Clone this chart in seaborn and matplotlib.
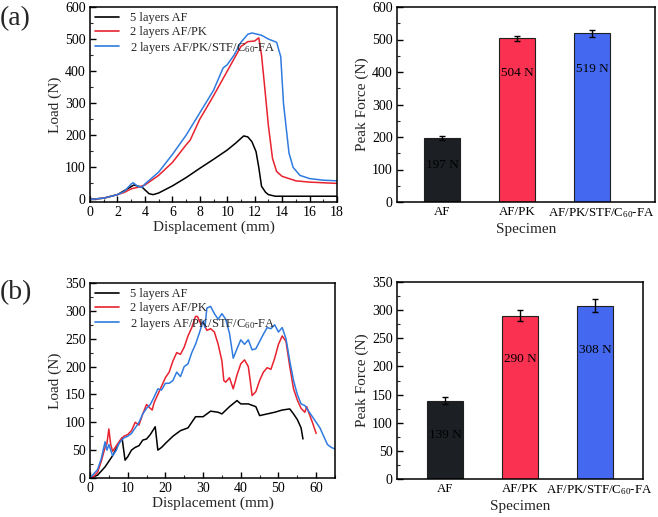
import numpy as np
import pandas as pd
import matplotlib
matplotlib.use("Agg")
import matplotlib.pyplot as plt
from matplotlib.ticker import MultipleLocator, AutoMinorLocator
from matplotlib.transforms import ScaledTranslation
import seaborn as sns

sns.set_theme(style="ticks")
plt.rcParams['font.family'] = ['Liberation Serif', 'DejaVu Serif']
plt.rcParams['mathtext.fontset'] = 'custom'
plt.rcParams['mathtext.rm'] = 'Liberation Serif'
plt.rcParams['mathtext.it'] = 'Liberation Serif:italic'
plt.rcParams['mathtext.default'] = 'regular'

# ---------------- data: panel (a) load-displacement ----------------
a_af_x = [0, 1, 2, 2.6, 3.2, 3.8, 4.3, 4.6, 5, 6, 7, 8, 9, 10, 10.6, 11.2, 11.5, 11.8, 12.1, 12.3, 12.5, 12.8, 13.0, 13.5, 14, 16, 18]
a_af_y = [0, 4, 15, 30, 45, 38, 18, 15, 20, 42, 68, 97, 125, 154, 175, 198, 195, 180, 149, 100, 41, 22, 15, 10, 10, 10, 10]

a_pk_x = [0, 1, 2, 2.5, 3, 3.5, 4, 5, 6, 7, 7.3, 8, 9, 10, 11, 11.5, 12, 12.3, 12.5, 12.7, 13, 13.3, 13.6, 14, 15, 16, 18]
a_pk_y = [0, 4, 15, 22, 33, 38, 45, 75, 115, 170, 185, 250, 323, 400, 477, 492, 494, 504, 450, 364, 230, 128, 87, 72, 58, 54, 50]

a_stf_x = [0, 1, 2, 2.5, 3, 3.15, 3.5, 3.8, 4, 5, 6, 7, 8, 9, 9.7, 10, 10.5, 11, 11.5, 11.8, 12.5, 13, 13.6, 13.9, 14.1, 14.5, 14.8, 15.3, 16, 17, 18]
a_stf_y = [0, 4, 15, 25, 48, 52, 40, 38, 48, 85, 140, 200, 270, 340, 410, 420, 450, 490, 515, 519, 512, 500, 490, 445, 300, 145, 100, 75, 65, 60, 58]

# ---------------- data: panel (b) load-displacement ----------------
b_af_x = [0, 2, 4, 6, 7.5, 8.5, 9.3, 10, 11, 12, 13, 14, 15, 16, 17.3, 18, 19, 20, 22, 24, 26, 28, 30, 32, 34, 35, 37, 39, 40, 42, 44, 45, 47, 49, 51, 53, 54, 55, 56, 56.5]
b_af_y = [0, 5, 20, 40, 60, 72, 32, 38, 50, 55, 58, 68, 70, 78, 92, 50, 55, 62, 75, 85, 90, 110, 110, 120, 118, 115, 128, 139, 133, 133, 128, 112, 115, 118, 122, 124, 115, 105, 90, 70]

b_pk_x = [0, 1, 2, 3, 4, 4.5, 5, 5.5, 6, 7, 8, 9, 10, 11, 12, 13, 14, 15, 16, 16.5, 17, 18, 19, 20, 21, 22, 23, 24, 25, 26, 27, 28, 28.5, 29.5, 30, 31, 32, 33, 34, 35, 35.5, 36, 37, 38, 39, 40, 41, 42, 42.5, 43, 44, 45, 46, 47, 48, 49, 50, 51, 52, 53, 54, 55, 56, 57, 57.5, 58, 59, 60]
b_pk_y = [0, 3, 10, 30, 55, 62, 88, 60, 48, 58, 68, 75, 78, 85, 100, 95, 115, 132, 125, 122, 135, 150, 165, 180, 190, 210, 225, 222, 235, 255, 270, 290, 290, 275, 280, 265, 268, 262, 240, 210, 175, 172, 180, 160, 185, 205, 212, 200, 175, 148, 155, 175, 190, 198, 195, 215, 240, 255, 245, 200, 160, 140, 125, 118, 128, 118, 100, 80]

b_stf_x = [0, 2, 3, 4, 4.5, 5, 6, 7, 7.5, 8, 9, 10, 11, 12, 13, 14, 15, 16, 17, 18, 19, 20, 21, 22, 23, 24, 25, 26, 27, 28, 29, 30, 30.5, 31, 32, 33, 34, 35, 36, 37, 38, 39, 40, 41, 42, 43, 44, 45, 46, 47, 48, 49, 50, 51, 52, 53, 54, 55, 56, 57, 58, 59, 60, 61, 62, 63, 64, 65]
b_stf_y = [0, 15, 35, 65, 50, 60, 40, 50, 60, 65, 72, 75, 80, 90, 100, 115, 125, 132, 145, 160, 158, 170, 170, 175, 190, 182, 200, 205, 225, 240, 260, 282, 270, 305, 308, 295, 285, 295, 285, 260, 215, 232, 248, 240, 248, 230, 232, 245, 258, 270, 268, 275, 262, 270, 250, 210, 175, 150, 133, 130, 120, 110, 100, 90, 75, 60, 55, 52]

series_names = ["5 layers AF", "2 layers AF/PK", "2 layers AF/PK/STF/C$_{60}$-FA"]
line_colors = ["#000000", "#E8222E", "#2F7BE0"]

# ---------------- data: peak force bars ----------------
specimens = ["AF", "AF/PK", "AF/PK/STF/C$_{60}$-FA"]
peak_a = [197, 504, 519]
err_a = [6, 8, 10]
label_y_a = [114, 397, 409]
peak_b = [139, 290, 308]
err_b = [6, 10, 12]
label_y_b = [78, 213, 229]
bar_colors = ["#1C1F23", "#FA3150", "#4469F0"]


def long_df(xs, ys):
    frames = []
    for name, x, y in zip(series_names, xs, ys):
        frames.append(pd.DataFrame({"x": x, "y": y, "series": name}))
    return pd.concat(frames, ignore_index=True)


fig = plt.figure(figsize=(6.58, 5.17), dpi=100)
W, H = 658, 517


def add_ax(x0, x1, ytop, ybot):
    return fig.add_axes([x0 / W, (H - ybot) / H, (x1 - x0) / W, (ybot - ytop) / H])


ax_a1 = add_ax(90, 337, 7, 202)
ax_a2 = add_ax(397, 655, 7, 202)
ax_b1 = add_ax(90, 335, 283, 478)
ax_b2 = add_ax(397, 643, 282, 479)


def style_ax(ax, xminor=True):
    for s in ax.spines.values():
        s.set_linewidth(1.1)
        s.set_color("black")
    ax.tick_params(axis='both', which='major', direction='in', length=4, width=1,
                   labelsize=10, colors='black', pad=3, top=False, right=False)
    ax.tick_params(axis='both', which='minor', direction='in', length=2, width=0.8,
                   top=False, right=False)
    ax.yaxis.set_minor_locator(AutoMinorLocator(2))
    if xminor:
        ax.xaxis.set_minor_locator(AutoMinorLocator(2))


def line_panel(ax, xs, ys, xlim, xstep, ylim, ystep):
    df = long_df(xs, ys)
    sns.lineplot(data=df, x="x", y="y", hue="series", palette=line_colors,
                 hue_order=series_names, estimator=None, sort=False,
                 linewidth=1.1, ax=ax)
    ax.set_xlim(*xlim)
    ax.set_ylim(*ylim)
    ax.xaxis.set_major_locator(MultipleLocator(xstep))
    ax.yaxis.set_major_locator(MultipleLocator(ystep))
    ax.set_xlabel("Displacement (mm)", fontsize=11, labelpad=1)
    ax.set_ylabel("Load (N)", fontsize=11, labelpad=2)
    style_ax(ax)
    leg = ax.legend(loc="upper left", frameon=False, fontsize=9, handlelength=1.9,
                    handletextpad=0.9, labelspacing=0.15, borderaxespad=0.2,
                    borderpad=0.2)
    for h in leg.get_lines():
        h.set_linewidth(1.2)


def bar_panel(ax, vals, errs, label_ys, xlim, ylim, ystep, shift_px):
    df = pd.DataFrame({"Specimen": specimens, "Peak": vals})
    sns.barplot(data=df, x="Specimen", y="Peak", hue="Specimen", palette=bar_colors,
                order=specimens, hue_order=specimens, legend=False, width=0.47,
                edgecolor="#202020", linewidth=0.8, saturation=1, ax=ax)
    ax.errorbar(range(len(vals)), vals, yerr=errs, fmt='none', ecolor='black',
                elinewidth=1, capsize=2.5, capthick=1)
    for i, (v, ly) in enumerate(zip(vals, label_ys)):
        ax.text(i, ly, f"{v} N", ha='center', va='center', fontsize=9.5, color='black')
    ax.set_xlim(*xlim)
    ax.set_ylim(*ylim)
    ax.yaxis.set_major_locator(MultipleLocator(ystep))
    ax.set_xlabel("Specimen", fontsize=11, labelpad=2)
    ax.set_ylabel("Peak Force (N)", fontsize=11, labelpad=2)
    style_ax(ax, xminor=False)
    ax.tick_params(axis='x', which='both', length=0, labelsize=9.3)
    labels = ax.get_xticklabels()
    labels[2].set_transform(labels[2].get_transform() +
                            ScaledTranslation(shift_px / 100, 0, fig.dpi_scale_trans))


line_panel(ax_a1, [a_af_x, a_pk_x, a_stf_x], [a_af_y, a_pk_y, a_stf_y],
           (0, 18), 2, (-5, 600), 100)
ax_a1.set_ylim(-8, 600)
line_panel(ax_b1, [b_af_x, b_pk_x, b_stf_x], [b_af_y, b_pk_y, b_stf_y],
           (0, 65), 10, (0, 350), 50)

bar_panel(ax_a2, peak_a, err_a, label_y_a, (-0.6, 2.84), (0, 600), 100, 9)
bar_panel(ax_b2, peak_b, err_b, label_y_b, (-0.64, 2.64), (0, 350), 50, 4)

fig.text(0 / W, 1 - 19 / H, "(a)", fontsize=20, ha='left', va='center')
fig.text(0 / W, 1 - 293 / H, "(b)", fontsize=20, ha='left', va='center')

fig.savefig("out.png", dpi=100)
